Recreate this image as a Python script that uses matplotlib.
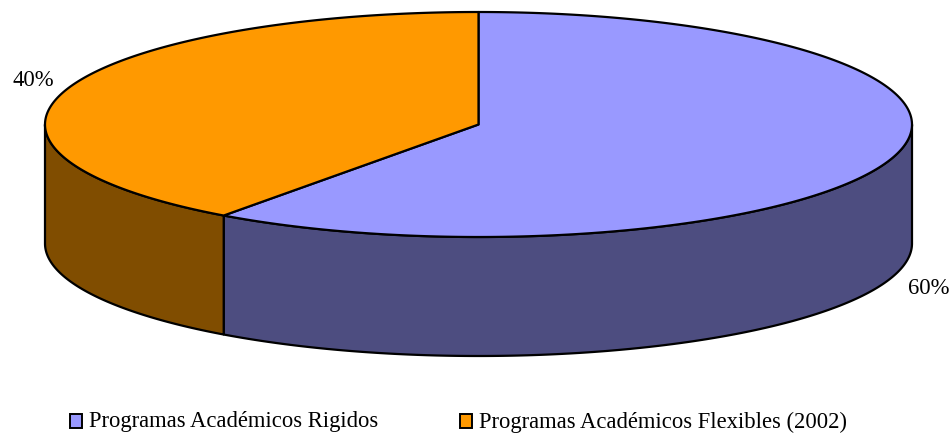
import numpy as np
import matplotlib
matplotlib.use("Agg")
import matplotlib.pyplot as plt
from matplotlib.patches import Polygon, Rectangle

labels = ["Programas Académicos Rigidos", "Programas Académicos Flexibles (2002)"]
values = [60, 40]
top_colors = ["#9999FF", "#FF9900"]
side_colors = ["#4D4D80", "#804D00"]
pct_labels = ["60%", "40%"]

W, H = 952, 434
fig = plt.figure(figsize=(W / 100, H / 100), dpi=100)
ax = fig.add_axes([0, 0, 1, 1])
ax.set_xlim(0, W)
ax.set_ylim(H, 0)
ax.axis("off")

cx, cy = 478.5, 124.5
a, b = 433.5, 112.5
depth = 119

def pt(theta_deg, dy=0.0):
    t = np.radians(theta_deg)
    return cx + a * np.sin(t), cy - b * np.cos(t) + dy

total = float(sum(values))
starts = []
acc = 0.0
for v in values:
    starts.append(acc)
    acc += v / total * 360.0

# sides
for i, v in enumerate(values):
    t1 = starts[i]
    t2 = t1 + v / total * 360.0
    s1, s2 = max(t1, 90.0), min(t2, 270.0)
    if s2 > s1:
        ts = np.linspace(s1, s2, 200)
        topp = [pt(t) for t in ts]
        botp = [pt(t, depth) for t in ts[::-1]]
        ax.add_patch(Polygon(topp + botp, closed=True, facecolor=side_colors[i],
                             edgecolor="black", linewidth=1.6, joinstyle="round"))

# tops
for i, v in enumerate(values):
    t1 = starts[i]
    t2 = t1 + v / total * 360.0
    ts = np.linspace(t1, t2, 300)
    poly = [(cx, cy)] + [pt(t) for t in ts]
    ax.add_patch(Polygon(poly, closed=True, facecolor=top_colors[i],
                         edgecolor="black", linewidth=1.6, joinstyle="round"))

font = dict(family="Liberation Serif", fontsize=16.3, color="black")
ax.text(929, 288, pct_labels[0], ha="center", va="center", **font)
ax.text(33, 80, pct_labels[1], ha="center", va="center", **font)

# legend
leg_x = [70, 460]
for i, lab in enumerate(labels):
    ax.add_patch(Rectangle((leg_x[i], 414), 12, 14, facecolor=top_colors[i],
                           edgecolor="black", linewidth=1.4))
    ax.text(leg_x[i] + 19, 422, lab, ha="left", va="center", **font)

fig.savefig("out.png", dpi=100)
